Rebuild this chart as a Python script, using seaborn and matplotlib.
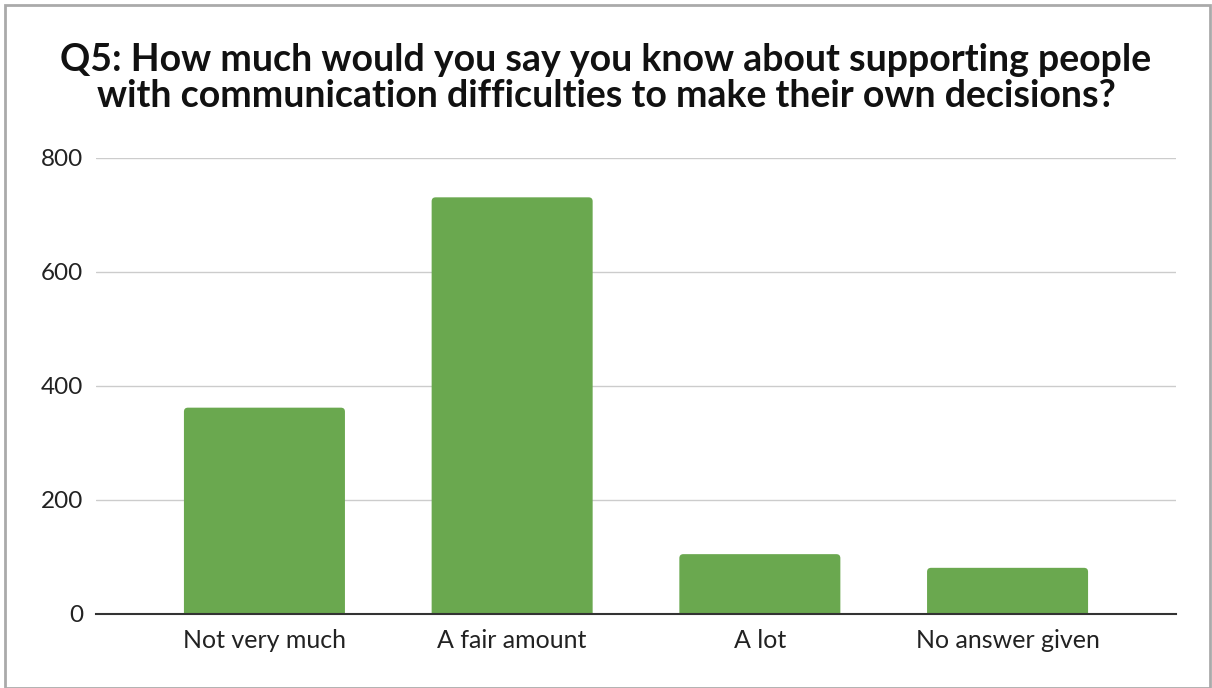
import matplotlib
matplotlib.use("Agg")
import matplotlib.pyplot as plt
from matplotlib.patches import FancyBboxPatch
import seaborn as sns
import pandas as pd

categories = ["Not very much", "A fair amount", "A lot", "No answer given"]
counts = [362, 731, 105, 81]
y_ticks = [0, 200, 400, 600, 800]

sns.set_theme(style="white")
plt.rcParams["font.family"] = ["Lato", "DejaVu Sans"]

df = pd.DataFrame({"answer": categories, "count": counts})

W, H = 1212, 688
fig = plt.figure(figsize=(W / 100, H / 100), dpi=100)
ax_box = [96 / W, 1 - 614 / H, 1080 / W, (614 - 158) / H]
ax = fig.add_axes(ax_box)

sns.barplot(data=df, x="answer", y="count", color="#6aa84f", saturation=1,
            width=0.65, ax=ax, zorder=3)

ax.set_ylim(0, 800)
ax.set_xlim(-0.68, 3.68)

# give the bars slightly rounded top corners
px_per_x = ax_box[2] * W / 4.36
px_per_y = ax_box[3] * H / 800
radius_px = 4
for bar in list(ax.patches):
    x, w, h = bar.get_x(), bar.get_width(), bar.get_height()
    rounded = FancyBboxPatch((x, -40), w, h + 40,
                             boxstyle=f"round,pad=0,rounding_size={radius_px / px_per_x}",
                             mutation_aspect=px_per_x / px_per_y,
                             facecolor=bar.get_facecolor(), edgecolor="none",
                             zorder=3)
    bar.set_visible(False)
    ax.add_patch(rounded)

ax.set_yticks(y_ticks)
ax.set_yticklabels([str(v) for v in y_ticks], fontsize=17.5, color="#222222")
ax.tick_params(axis="x", labelsize=18, colors="#222222", length=0, pad=11)
ax.tick_params(axis="y", length=0, pad=9)
ax.set_xlabel("")
ax.set_ylabel("")
ax.grid(axis="y", color="#cccccc", linewidth=1, zorder=0)
for side in ["left", "right", "top"]:
    ax.spines[side].set_visible(False)
ax.spines["bottom"].set_color("#333333")
ax.spines["bottom"].set_linewidth(1.5)
ax.spines["bottom"].set_zorder(4)

fig.text(0.5, 1 - 78 / H,
         "Q5: How much would you say you know about supporting people\n"
         "with communication difficulties to make their own decisions?",
         ha="center", va="center", fontsize=27, fontweight="bold",
         color="#111111", linespacing=1.05)

# outer frame
frame = plt.Rectangle((5 / W, 0), 1 - 7 / W, 1 - 5 / H,
                      transform=fig.transFigure, fill=False,
                      edgecolor="#aaaaaa", linewidth=2)
fig.patches.append(frame)

fig.savefig("out.png", dpi=100)
